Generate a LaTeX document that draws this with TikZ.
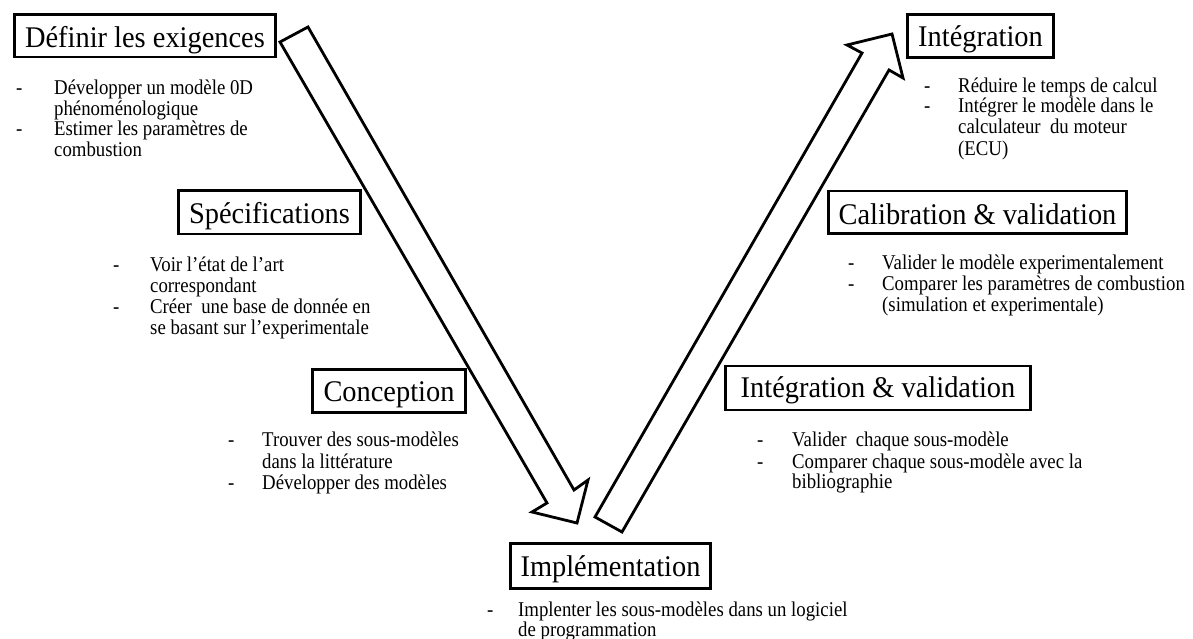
\documentclass[tikz,border=0pt]{standalone}
\usepackage{fontspec}
\setmainfont{Liberation Serif}
\newfontfamily\titlefont[FakeStretch=0.947]{Liberation Serif}
\newfontfamily\bodyfont[FakeStretch=0.895]{Liberation Serif}
\begin{document}
\begin{tikzpicture}[x=1pt,y=-1pt,
  titlebox/.style={draw, line width=2.6pt, font=\titlefont\fontsize{30}{34}\selectfont, inner sep=0pt},
  bodyline/.style={font=\bodyfont\fontsize{21}{23}\selectfont, inner sep=0pt, anchor=base west},
  blockarrow/.style={draw, line width=2.8pt, fill=white, line join=miter, miter limit=10}]
\useasboundingbox (0,0) rectangle (1193,639);

% block arrows
\coordinate (da1) at (308,27);
\coordinate (da2) at (574,490);
\coordinate (da3) at (588,480);
\coordinate (da4) at (577,523);
\coordinate (da5) at (532,512);
\coordinate (da6) at (547,503);
\coordinate (da7) at (280,42);
\draw[blockarrow] (da1) -- (da2) -- (da3) -- (da4) -- (da5) -- (da6) -- (da7) -- cycle;

\coordinate (ua1) at (595,517);
\coordinate (ua2) at (862,53);
\coordinate (ua3) at (847,45);
\coordinate (ua4) at (892,34);
\coordinate (ua5) at (903,78);
\coordinate (ua6) at (889,70);
\coordinate (ua7) at (622,532);
\draw[blockarrow] (ua1) -- (ua2) -- (ua3) -- (ua4) -- (ua5) -- (ua6) -- (ua7) -- cycle;

% title boxes
\node[titlebox, minimum width=261.5pt, text height=33.2pt, text depth=9.3pt, anchor=north] (t1) at (145,13.25) {Définir les exigences};
\node[titlebox, minimum width=182.5pt, text height=32.5pt, text depth=11pt, anchor=north] (t2) at (269.5,189.25) {Spécifications};
\node[titlebox, minimum width=153.5pt, text height=32.7pt, text depth=10.8pt, anchor=north] (t3) at (389,367.95) {Conception};
\node[titlebox, minimum width=200.5pt, text height=32.7pt, text depth=12.1pt, anchor=north] (t4) at (610.5,542.25) {Implémentation};
\node[titlebox, minimum width=146.5pt, text height=32.1pt, text depth=11pt, anchor=north] (t5) at (980.5,12.95) {Intégration};
\node[titlebox, minimum width=298.5pt, text height=33.2pt, text depth=9.3pt, anchor=north] (t6) at (977.5,189.55) {Calibration \& validation};
\node[titlebox, minimum width=305.5pt, text height=31.8pt, text depth=12.4pt, anchor=north] (t7) at (878,364.55) {Intégration \& validation};

% block 1
\node[bodyline] (b1d1) at (16,95) {-};
\node[bodyline] (b1l1) at (54,95) {Développer un modèle 0D};
\node[bodyline] (b1l2) at (54,115.5) {phénoménologique};
\node[bodyline] (b1d2) at (16,136) {-};
\node[bodyline] (b1l3) at (54,136) {Estimer les paramètres de};
\node[bodyline] (b1l4) at (54,156.5) {combustion};

% block 2
\node[bodyline] (b2d1) at (113,271.5) {-};
\node[bodyline] (b2l1) at (150,271.5) {Voir l’état de l’art};
\node[bodyline] (b2l2) at (150,292.5) {correspondant};
\node[bodyline] (b2d2) at (113,313.5) {-};
\node[bodyline] (b2l3) at (150,313.5) {Créer\ \ une base de donnée en};
\node[bodyline] (b2l4) at (150,334.5) {se basant sur l’experimentale};

% block 3
\node[bodyline] (b3d1) at (228,446.5) {-};
\node[bodyline] (b3l1) at (262,446.5) {Trouver des sous-modèles};
\node[bodyline] (b3l2) at (262,468) {dans la littérature};
\node[bodyline] (b3d2) at (228,489.5) {-};
\node[bodyline] (b3l3) at (262,489.5) {Développer des modèles};

% block 4
\node[bodyline] (b4d1) at (487,616) {-};
\node[bodyline] (b4l1) at (518,616) {Implenter les sous-modèles dans un logiciel};
\node[bodyline] (b4l2) at (518,636) {de programmation};

% block 5
\node[bodyline] (b5d1) at (924,92.5) {-};
\node[bodyline] (b5l1) at (958,92.5) {Réduire le temps de calcul};
\node[bodyline] (b5d2) at (924,112.5) {-};
\node[bodyline] (b5l2) at (958,112.5) {Intégrer le modèle dans le};
\node[bodyline] (b5l3) at (958,134) {calculateur\ \ du moteur};
\node[bodyline] (b5l4) at (958,155.5) {(ECU)};

% block 6
\node[bodyline] (b6d1) at (848,269.5) {-};
\node[bodyline] (b6l1) at (882,269.5) {Valider le modèle experimentalement};
\node[bodyline] (b6d2) at (848,290.5) {-};
\node[bodyline] (b6l2) at (882,290.5) {Comparer les paramètres de combustion};
\node[bodyline] (b6l3) at (882,311.5) {(simulation et experimentale)};

% block 7
\node[bodyline] (b7d1) at (757,446.5) {-};
\node[bodyline] (b7l1) at (792,446.5) {Valider\ \ chaque sous-modèle};
\node[bodyline] (b7d2) at (757,468) {-};
\node[bodyline] (b7l2) at (792,468) {Comparer chaque sous-modèle avec la};
\node[bodyline] (b7l3) at (792,488.5) {bibliographie};
\end{tikzpicture}
\end{document}
